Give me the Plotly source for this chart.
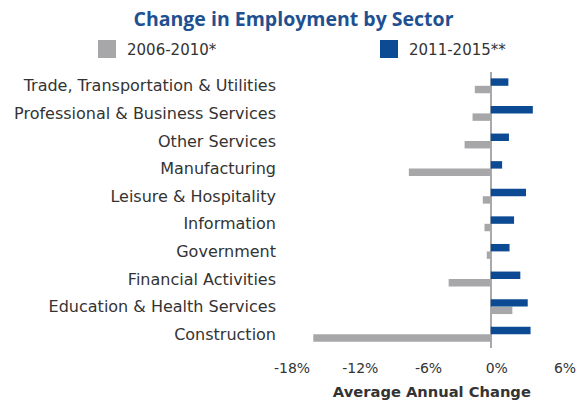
import plotly.graph_objects as go

# Sectors, listed bottom-to-top as plotted on the category axis
sectors = [
    "Construction",
    "Education & Health Services",
    "Financial Activities",
    "Government",
    "Information",
    "Leisure & Hospitality",
    "Manufacturing",
    "Other Services",
    "Professional & Business Services",
    "Trade, Transportation & Utilities",
]

# Average annual change in employment (%)
change_2006_2010 = [-15.6, 1.9, -3.7, -0.35, -0.55, -0.7, -7.2, -2.3, -1.6, -1.4]
change_2011_2015 = [3.5, 3.25, 2.6, 1.65, 2.05, 3.1, 1.0, 1.6, 3.7, 1.55]

period_names = ["2006-2010*", "2011-2015**"]

tick_values = [-18, -12, -6, 0, 6]
tick_labels = ["-18%", "-12%", "-6%", "0%", "6%"]

GRAY = "#a7a7aa"
BLUE = "#0c4a93"
TEXT = "#333333"
FONT = "DejaVu Sans"

fig = go.Figure()
fig.add_trace(go.Bar(
    y=sectors, x=change_2006_2010, orientation="h",
    name=period_names[0], showlegend=False,
    marker=dict(color=GRAY, line=dict(width=0)),
))
fig.add_trace(go.Bar(
    y=sectors, x=change_2011_2015, orientation="h",
    name=period_names[1], showlegend=False,
    marker=dict(color=BLUE, line=dict(width=0)),
))

# Legend entries with large square swatches, one legend per period
for name, color, legend_id in [(period_names[0], GRAY, "legend"),
                               (period_names[1], BLUE, "legend2")]:
    fig.add_trace(go.Scatter(
        x=[None], y=[None], mode="markers", name=name, legend=legend_id,
        marker=dict(symbol="square", size=16, color=color,
                    line=dict(width=2, color=color)),
        hoverinfo="skip",
    ))

legend_common = dict(
    xref="container", yref="container", y=0.877,
    xanchor="left", yanchor="middle",
    font=dict(family=FONT, size=15, color=TEXT),
    itemsizing="trace", bgcolor="rgba(0,0,0,0)",
    borderwidth=0, tracegroupgap=0,
)

fig.update_layout(
    width=587, height=400,
    margin=dict(l=286, r=28, t=72, b=52, autoexpand=False),
    paper_bgcolor="white", plot_bgcolor="white",
    barmode="group", bargap=0.46, bargroupgap=0,
    font=dict(family=FONT, size=14, color=TEXT),
    title=dict(
        text="<b>Change in Employment by Sector</b>",
        font=dict(family="Open Sans", size=19.5, color="#1f5091"),
        x=0.5, xref="container", xanchor="center",
        y=0.953, yref="container", yanchor="middle",
    ),
    legend=dict(x=87 / 587, **legend_common),
    legend2=dict(x=369 / 587, **legend_common),
    xaxis=dict(
        range=[-18, 6], tickvals=tick_values, ticktext=tick_labels,
        showgrid=False, zeroline=True, zerolinecolor="#a9a9ab", zerolinewidth=2,
        showline=False, ticks="",
        ticklabelstandoff=10, ticklabelshift=6,
        tickfont=dict(family=FONT, size=14, color=TEXT),
        title=dict(text="&nbsp;&nbsp;&nbsp;&nbsp;<b>Average Annual Change</b>",
                   standoff=12,
                   font=dict(family=FONT, size=14.7, color=TEXT)),
    ),
    yaxis=dict(
        showgrid=False, showline=False, ticks="",
        ticklabelstandoff=9,
        tickfont=dict(family=FONT, size=16, color=TEXT),
    ),
)

fig.write_html("out.html")
